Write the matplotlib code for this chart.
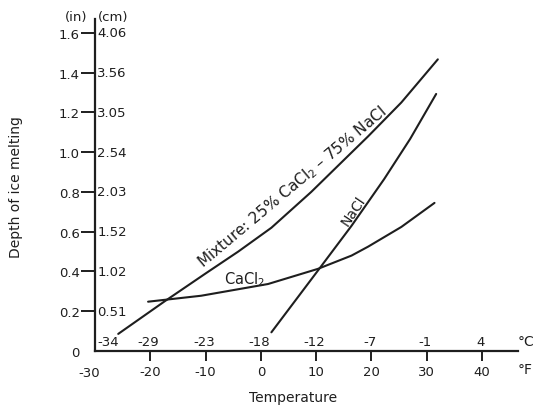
import matplotlib
matplotlib.use("Agg")
import matplotlib.pyplot as plt

# temperature ticks (deg F on the axis, deg C written above)
f_ticks = [-30, -20, -10, 0, 10, 20, 30, 40]
c_labels = ["-34", "-29", "-23", "-18", "-12", "-7", "-1", "4"]

# depth ticks (inches on the left, cm on the right of the axis)
in_ticks = [0, 0.2, 0.4, 0.6, 0.8, 1.0, 1.2, 1.4, 1.6]
in_labels = ["0", "0.2", "0.4", "0.6", "0.8", "1.0", "1.2", "1.4", "1.6"]
cm_labels = ["", "0.51", "1.02", "1.52", "2.03", "2.54", "3.05", "3.56", "4.06"]

# curves: temperature (F) vs depth (in)
mix_f = [-25.8, -17.4, -10.0, -4.1, 1.9, 9.1, 19.4, 25.4, 32.0]
mix_in = [0.086, 0.25, 0.39, 0.50, 0.62, 0.80, 1.08, 1.25, 1.467]

cacl2_f = [-20.4, -10.8, 1.3, 10.3, 16.4, 19.4, 25.4, 31.4]
cacl2_in = [0.248, 0.278, 0.337, 0.413, 0.48, 0.525, 0.624, 0.745]

nacl_f = [1.9, 10.3, 16.4, 22.3, 27.0, 31.7]
nacl_in = [0.094, 0.404, 0.63, 0.865, 1.067, 1.293]

W, H = 543, 406
fig = plt.figure(figsize=(W / 100, H / 100), dpi=100)
ax = fig.add_axes([95 / W, 54 / H, 423 / W, 332 / H])

ink = "#1e1e1e"
lw = 1.5
for fx, iy in [(mix_f, mix_in), (cacl2_f, cacl2_in), (nacl_f, nacl_in)]:
    ax.plot(fx, iy, color=ink, linewidth=lw, solid_capstyle="round",
            solid_joinstyle="round")

ax.set_xlim(-30, 46.5)
ax.set_ylim(0, 1.67)

for side in ["top", "right"]:
    ax.spines[side].set_visible(False)
for side in ["left", "bottom"]:
    ax.spines[side].set_linewidth(1.6)
    ax.spines[side].set_color(ink)

fs = 9.5
ax.set_xticks(f_ticks)
# origin label is drawn separately (shifted left, no tick mark)
ax.set_xticklabels([""] + [str(v) for v in f_ticks[1:]], fontsize=fs, color=ink)
ax.tick_params(axis="x", direction="out", length=7, width=1.4, pad=3, colors=ink)
ax.set_yticks(in_ticks)
ax.set_yticklabels(in_labels, fontsize=fs, color=ink)
ax.tick_params(axis="y", direction="out", length=10, width=1.4, pad=1, colors=ink)

ax.xaxis.get_major_ticks()[0].tick1line.set_visible(False)
ax.yaxis.get_major_ticks()[0].tick1line.set_visible(False)
ax.annotate(str(f_ticks[0]), xy=(f_ticks[0], 0), xytext=(-4, -10.5),
            textcoords="offset points", ha="center", va="top",
            fontsize=fs, color=ink, annotation_clip=False)

# deg C labels above the axis
for i, (f, c) in enumerate(zip(f_ticks, c_labels)):
    x = f + 2.3 if i == 0 else f - 0.3
    ax.annotate(c, xy=(x, 0), xytext=(0, 2), textcoords="offset points",
                ha="center", va="bottom", fontsize=fs, color=ink)

# cm labels right of the axis
for v, c in zip(in_ticks, cm_labels):
    if c:
        ax.annotate(c, xy=(-30, v), xytext=(1.5, 0), textcoords="offset points",
                    ha="left", va="center", fontsize=fs, color=ink)

fig.text(76 / W, 1 - 17 / H, "(in)", ha="center", va="center", fontsize=fs, color=ink)
fig.text(113 / W, 1 - 17 / H, "(cm)", ha="center", va="center", fontsize=fs, color=ink)
fig.text(518 / W, 1 - 342 / H, "°C", ha="left", va="center", fontsize=10, color=ink)
fig.text(518 / W, 1 - 370 / H, "°F", ha="left", va="center", fontsize=10, color=ink)

fig.text(293 / W, 1 - 398 / H, "Temperature", ha="center", va="center",
         fontsize=10, color=ink)
fig.text(16 / W, 1 - 187 / H, "Depth of ice melting", ha="center", va="center",
         rotation=90, fontsize=10, color=ink)

# curve labels
ax.text(5.7, 0.83, "Mixture: 25% CaCl$_2$ – 75% NaCl", rotation=40,
        ha="center", va="center", fontsize=11, color=ink, rotation_mode="anchor")
ax.text(-3.0, 0.362, "CaCl$_2$", ha="center", va="center", fontsize=10.5, color=ink)
ax.text(16.7, 0.71, "NaCl", rotation=56, ha="center", va="center",
        fontsize=10, color=ink, rotation_mode="anchor")

fig.savefig("out.png", dpi=100)
